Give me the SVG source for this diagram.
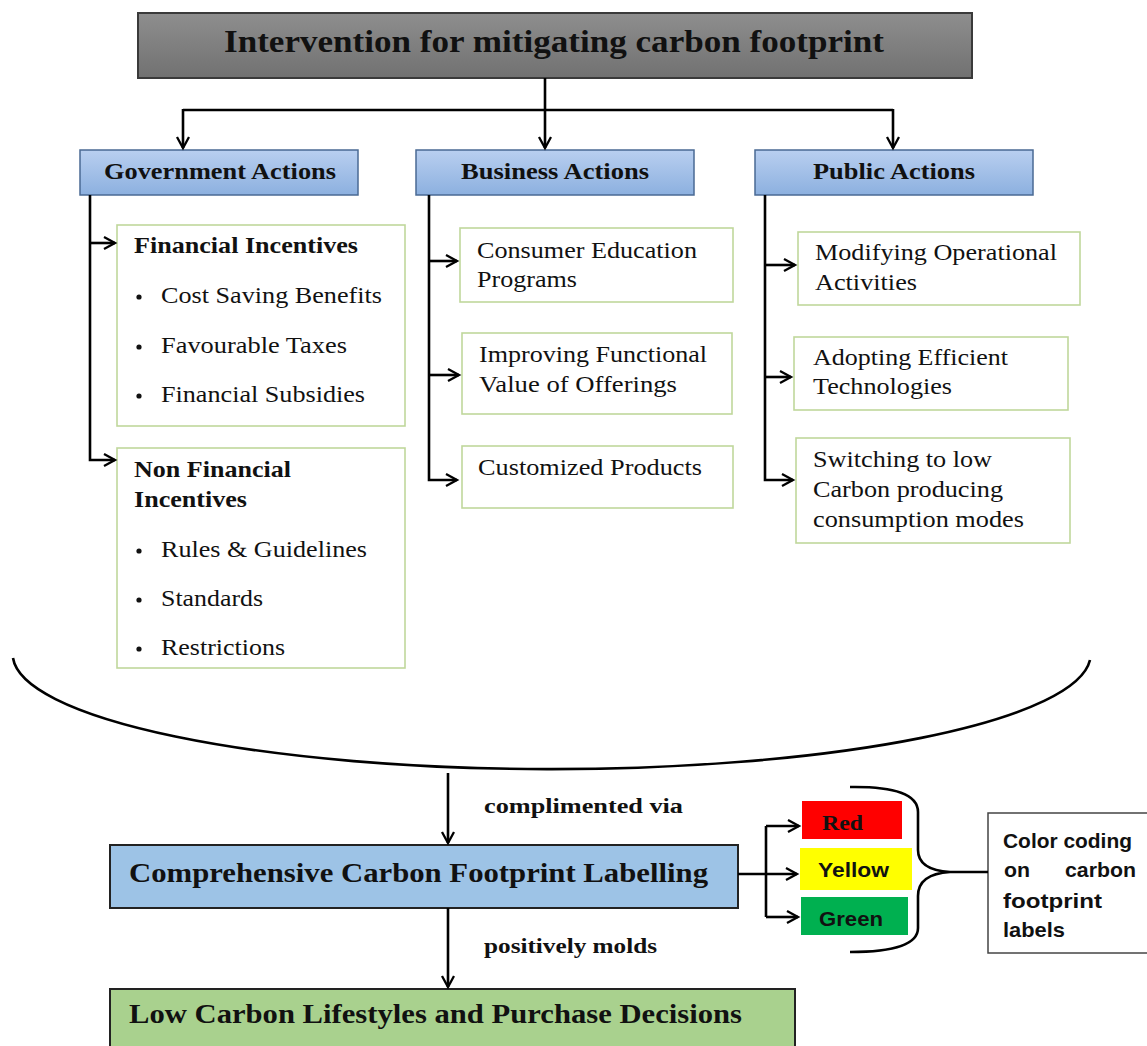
<svg xmlns="http://www.w3.org/2000/svg" width="1147" height="1046" viewBox="0 0 1147 1046">
<defs>
<linearGradient id="gGray" x1="0" y1="0" x2="0" y2="1"><stop offset="0" stop-color="#8e8e8e"/><stop offset="1" stop-color="#717171"/></linearGradient>
<linearGradient id="gBlue" x1="0" y1="0" x2="0" y2="1"><stop offset="0" stop-color="#b9cff0"/><stop offset="1" stop-color="#8cb0df"/></linearGradient>
<marker id="arr" markerUnits="userSpaceOnUse" markerWidth="16" markerHeight="16" refX="12" refY="7" orient="auto"><path d="M1,1 L12,7 L1,13" fill="none" stroke="#000" stroke-width="2.3"/></marker>
</defs>
<style>
.serif{font-family:"Liberation Serif","Times New Roman",serif;fill:#111}
.b{font-weight:bold}
.sans{font-family:"Liberation Sans",Arial,sans-serif;font-weight:bold;fill:#111}
.t22{font-size:23px}
.gbox{fill:#fff;stroke:#c0d79c;stroke-width:1.6}
.abox{fill:url(#gBlue);stroke:#4a6a94;stroke-width:1.5}
.con{fill:none;stroke:#000;stroke-width:2.6}
</style>
<rect width="1147" height="1046" fill="#fff"/>

<g id="title">
<rect x="138" y="13" width="834" height="65" fill="url(#gGray)" stroke="#3a3a3a" stroke-width="2"/>
<text class="serif b" x="224" y="52" font-size="31" textLength="660" lengthAdjust="spacingAndGlyphs">Intervention for mitigating carbon footprint</text>
</g>

<g id="gov-actions">
<rect class="abox" x="80" y="150" width="278" height="45"/>
<text class="serif b t22" x="104" y="179" textLength="232" lengthAdjust="spacingAndGlyphs">Government Actions</text>
</g>
<g id="bus-actions">
<rect class="abox" x="416" y="150" width="278" height="45"/>
<text class="serif b t22" x="461" y="179" textLength="188" lengthAdjust="spacingAndGlyphs">Business Actions</text>
</g>
<g id="pub-actions">
<rect class="abox" x="755" y="150" width="278" height="45"/>
<text class="serif b t22" x="813" y="179" textLength="162" lengthAdjust="spacingAndGlyphs">Public Actions</text>
</g>

<g id="financial">
<rect class="gbox" x="117" y="225" width="288" height="201"/>
<text class="serif b t22" x="134" y="253" textLength="224" lengthAdjust="spacingAndGlyphs">Financial Incentives</text>
<circle cx="139" cy="297" r="2.6" fill="#111"/>
<text class="serif t22" x="161" y="303" textLength="221" lengthAdjust="spacingAndGlyphs">Cost Saving Benefits</text>
<circle cx="139" cy="347" r="2.6" fill="#111"/>
<text class="serif t22" x="161" y="353" textLength="186" lengthAdjust="spacingAndGlyphs">Favourable Taxes</text>
<circle cx="139" cy="396" r="2.6" fill="#111"/>
<text class="serif t22" x="161" y="402" textLength="204" lengthAdjust="spacingAndGlyphs">Financial Subsidies</text>
</g>

<g id="nonfinancial">
<rect class="gbox" x="117" y="448" width="288" height="220"/>
<text class="serif b t22" x="134" y="477" textLength="157" lengthAdjust="spacingAndGlyphs">Non Financial</text>
<text class="serif b t22" x="134" y="507" textLength="113" lengthAdjust="spacingAndGlyphs">Incentives</text>
<circle cx="139" cy="551" r="2.6" fill="#111"/>
<text class="serif t22" x="161" y="557" textLength="206" lengthAdjust="spacingAndGlyphs">Rules &amp; Guidelines</text>
<circle cx="139" cy="600" r="2.6" fill="#111"/>
<text class="serif t22" x="161" y="606" textLength="102" lengthAdjust="spacingAndGlyphs">Standards</text>
<circle cx="139" cy="649" r="2.6" fill="#111"/>
<text class="serif t22" x="161" y="655" textLength="124" lengthAdjust="spacingAndGlyphs">Restrictions</text>
</g>

<g id="consumer-education">
<rect class="gbox" x="460" y="228" width="273" height="74"/>
<text class="serif t22" x="477" y="258" textLength="220" lengthAdjust="spacingAndGlyphs">Consumer Education</text>
<text class="serif t22" x="477" y="287" textLength="100" lengthAdjust="spacingAndGlyphs">Programs</text>
</g>
<g id="functional-value">
<rect class="gbox" x="462" y="333" width="270" height="81"/>
<text class="serif t22" x="479" y="362" textLength="228" lengthAdjust="spacingAndGlyphs">Improving Functional</text>
<text class="serif t22" x="479" y="392" textLength="198" lengthAdjust="spacingAndGlyphs">Value of Offerings</text>
</g>
<g id="customized">
<rect class="gbox" x="462" y="446" width="271" height="62"/>
<text class="serif t22" x="478" y="475" textLength="224" lengthAdjust="spacingAndGlyphs">Customized Products</text>
</g>

<g id="modifying">
<rect class="gbox" x="798" y="232" width="282" height="73"/>
<text class="serif t22" x="815" y="260" textLength="242" lengthAdjust="spacingAndGlyphs">Modifying Operational</text>
<text class="serif t22" x="815" y="290" textLength="102" lengthAdjust="spacingAndGlyphs">Activities</text>
</g>
<g id="adopting">
<rect class="gbox" x="794" y="337" width="274" height="73"/>
<text class="serif t22" x="813" y="365" textLength="195" lengthAdjust="spacingAndGlyphs">Adopting Efficient</text>
<text class="serif t22" x="813" y="394" textLength="139" lengthAdjust="spacingAndGlyphs">Technologies</text>
</g>
<g id="switching">
<rect class="gbox" x="796" y="438" width="274" height="105"/>
<text class="serif t22" x="813" y="467" textLength="179" lengthAdjust="spacingAndGlyphs">Switching to low</text>
<text class="serif t22" x="813" y="497" textLength="190" lengthAdjust="spacingAndGlyphs">Carbon producing</text>
<text class="serif t22" x="813" y="527" textLength="211" lengthAdjust="spacingAndGlyphs">consumption modes</text>
</g>

<g id="labelling">
<rect x="110" y="845" width="628" height="63" fill="#9dc3e6" stroke="#222" stroke-width="2"/>
<text class="serif b" x="129" y="882" font-size="28" textLength="579" lengthAdjust="spacingAndGlyphs">Comprehensive Carbon Footprint Labelling</text>
</g>
<g id="lifestyles">
<rect x="110" y="989" width="685" height="70" fill="#a9d18e" stroke="#222" stroke-width="2"/>
<text class="serif b" x="129" y="1023" font-size="28" textLength="613" lengthAdjust="spacingAndGlyphs">Low Carbon Lifestyles and Purchase Decisions</text>
</g>

<g id="red">
<rect x="802" y="801" width="100" height="38" fill="#ff0000"/>
<text class="serif b" x="822" y="830" font-size="22" textLength="41" lengthAdjust="spacingAndGlyphs">Red</text>
</g>
<g id="yellow">
<rect x="800" y="848" width="112" height="42" fill="#ffff00"/>
<text class="sans" x="818" y="877" font-size="21" textLength="71" lengthAdjust="spacingAndGlyphs">Yellow</text>
</g>
<g id="green">
<rect x="801" y="897" width="107" height="38" fill="#00b050"/>
<text class="sans" x="819" y="926" font-size="21" textLength="64" lengthAdjust="spacingAndGlyphs">Green</text>
</g>

<g id="color-coding">
<rect x="988" y="813" width="170" height="140" fill="#fff" stroke="#444" stroke-width="1.5"/>
<text class="sans" x="1003" y="848" font-size="21" textLength="129" lengthAdjust="spacingAndGlyphs">Color coding</text>
<text class="sans" x="1004" y="877" font-size="21" textLength="26" lengthAdjust="spacingAndGlyphs">on</text>
<text class="sans" x="1065" y="877" font-size="21" textLength="71" lengthAdjust="spacingAndGlyphs">carbon</text>
<text class="sans" x="1003" y="908" font-size="21" textLength="99" lengthAdjust="spacingAndGlyphs">footprint</text>
<text class="sans" x="1003" y="937" font-size="21" textLength="62" lengthAdjust="spacingAndGlyphs">labels</text>
</g>

<g id="edge-labels">
<text class="serif b" x="484" y="813" font-size="20" textLength="199" lengthAdjust="spacingAndGlyphs">complimented via</text>
<text class="serif b" x="484" y="953" font-size="20" textLength="173" lengthAdjust="spacingAndGlyphs">positively molds</text>
</g>

<g id="connectors">
<path class="con" d="M545,78 V148" marker-end="url(#arr)" stroke-width="3"/>
<path class="con" d="M183,110 H893" stroke-width="3"/>
<path class="con" d="M183,109 V148" marker-end="url(#arr)" stroke-width="3"/>
<path class="con" d="M893,109 V148" marker-end="url(#arr)" stroke-width="3"/>
<path class="con" d="M90,195 V460 H115" marker-end="url(#arr)"/>
<path class="con" d="M90,243 H115" marker-end="url(#arr)"/>
<path class="con" d="M429,195 V480 H457" marker-end="url(#arr)"/>
<path class="con" d="M429,261 H457" marker-end="url(#arr)"/>
<path class="con" d="M429,375 H459" marker-end="url(#arr)"/>
<path class="con" d="M765,195 V480 H793" marker-end="url(#arr)"/>
<path class="con" d="M765,265 H795" marker-end="url(#arr)"/>
<path class="con" d="M765,377 H791" marker-end="url(#arr)"/>
<path class="con" d="M13,658 A 539 115 0 0 0 1090,660" stroke-width="3"/>
<path class="con" d="M448,773 V843" marker-end="url(#arr)" stroke-width="2"/>
<path class="con" d="M448,908 V987" marker-end="url(#arr)" stroke-width="2"/>
<path class="con" d="M738,874 H797" marker-end="url(#arr)"/>
<path class="con" d="M766,826 V917"/>
<path class="con" d="M766,826 H799" marker-end="url(#arr)"/>
<path class="con" d="M766,917 H798" marker-end="url(#arr)"/>
<path class="con" d="M850,787 Q918,786 918,812 L918,850 Q918,870 950,872 L988,872 M950,872 Q918,874 918,896 L918,928 Q918,952 850,952" stroke-width="3"/>
</g>
</svg>
